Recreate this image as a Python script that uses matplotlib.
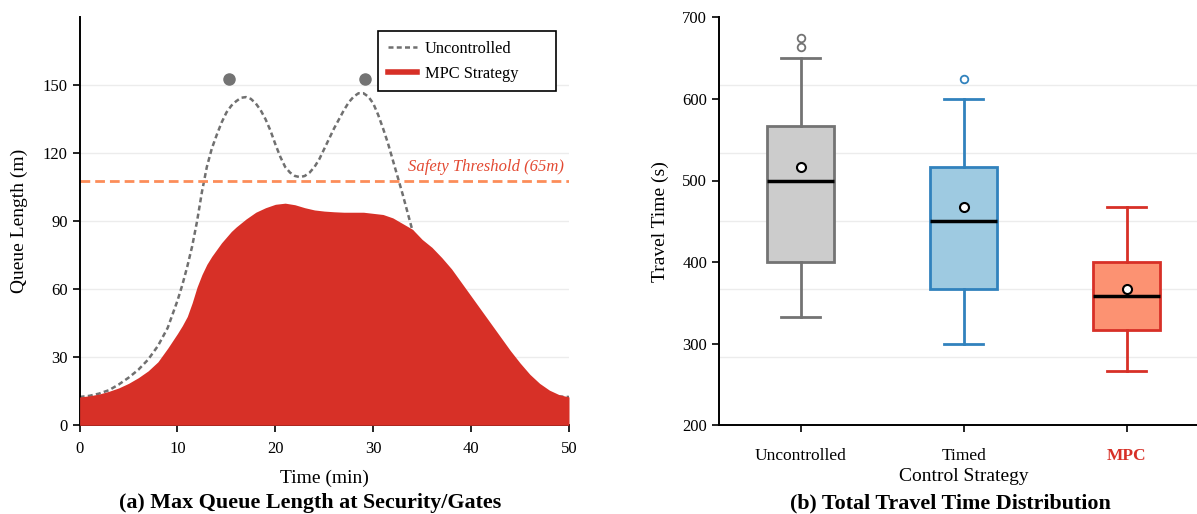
import numpy as np
import matplotlib
matplotlib.use("Agg")
import matplotlib.pyplot as plt
from matplotlib.lines import Line2D

plt.rcParams['font.family'] = ['Liberation Serif', 'DejaVu Serif']

# ---- data: panel (a) queue length over time ----
time_uncontrolled = [0, 1, 2, 3, 4, 5, 6, 7, 8, 9,
                     10, 10.5, 11, 11.5, 12, 12.5, 13, 13.5, 14, 14.5,
                     15, 15.5, 16, 16.5, 17, 17.5, 18, 18.5, 19, 19.5,
                     20, 20.5, 21, 21.5, 22, 22.5, 23, 23.5, 24, 24.5,
                     25, 25.5, 26, 26.5, 27, 27.5, 28, 28.5, 29, 29.5,
                     30, 30.5, 31, 31.5, 32, 32.5, 33, 33.5, 34, 35,
                     36, 37, 38, 39, 40, 41, 42, 43, 44, 45,
                     46, 47, 48, 49, 50]
queue_uncontrolled = [12.5, 13, 14, 15.5, 18, 21, 24.5, 29, 35, 43,
                      55, 62, 70, 79, 90, 103, 114, 122, 128, 133.5,
                      138, 141, 143, 144.5, 144.8, 144, 142, 139, 135, 130,
                      124, 118.5, 114, 111.5, 110, 109.5, 110, 111.5, 114, 117.5,
                      122, 126.5, 131, 135, 139, 142.5, 145, 146.5, 146.5, 145,
                      142, 137, 131, 124.5, 117, 109.5, 102, 94, 86, 72,
                      60, 50, 42, 35, 30, 26, 22, 19, 17, 15,
                      14, 13.5, 13, 12.7, 12.5]
time_mpc = [0, 1, 2, 3, 4, 5, 6, 7, 8, 9,
            10, 10.5, 11, 11.5, 12, 12.5, 13, 13.5, 14, 14.5,
            15, 15.5, 16, 17, 18, 19, 20, 21, 22, 23,
            24, 25, 26, 27, 28, 29, 30, 31, 32, 33,
            34, 35, 36, 37, 38, 39, 40, 41, 42, 43,
            44, 45, 46, 47, 48, 49, 50]
queue_mpc = [12.5, 13, 13.8, 15, 16.5, 18.5, 21, 24, 28, 34,
             40.5, 44, 48, 54, 61, 66.5, 71, 74.5, 77.5, 80.5,
             83, 85.5, 87.5, 91, 94, 96, 97.5, 98, 97.3, 96,
             95, 94.5, 94.2, 94, 94, 94, 93.5, 93, 91.5, 89,
             86.5, 82, 78.5, 74, 69, 63, 57, 51, 45, 39,
             33, 27.5, 22.5, 18.5, 15.5, 13.5, 12.5]
peak_times = [15.3, 29.2]
peak_marks = [153, 153]
safety_threshold = 108

# ---- data: panel (b) travel time distribution ----
strategies = ['Uncontrolled', 'Timed', 'MPC']
whisker_low = [333, 300, 267]
q1 = [400, 367, 317]
median = [500, 450, 358]
q3 = [567, 517, 400]
whisker_high = [650, 600, 467]
means = [517, 467, 367]
outliers = [[663, 675], [625], []]

face_colors = ['#cccccc', '#9ecae1', '#fc9272']
edge_colors = ['#737373', '#3182bd', '#d73027']

W, H = 1197, 514
fig = plt.figure(figsize=(W / 100, H / 100), dpi=100)
ax1 = fig.add_axes([79.6 / W, (H - 425.3) / H, 489.4 / W, 408 / H])
ax2 = fig.add_axes([719 / W, (H - 425.3) / H, 478 / W, 408 / H])

# ---- panel (a) ----
ax1.plot(time_uncontrolled, queue_uncontrolled, color='#707070', lw=1.8,
         dashes=(2, 1.3), zorder=2)
ax1.fill_between(time_mpc, 0, queue_mpc, color='#d73027', lw=0, zorder=3)
ax1.scatter(peak_times, peak_marks, s=64, color='#737373', zorder=4)
ax1.axhline(safety_threshold, color='#fc8d59', lw=2, dashes=(3.5, 1.8), zorder=2)
ax1.text(49.5, safety_threshold + 2.5, 'Safety Threshold (65m)', ha='right',
         va='bottom', fontsize=12, style='italic', color='#e34a33')

ax1.set_xlim(0, 50)
ax1.set_ylim(0, 180)
ax1.set_xticks(range(0, 51, 10))
ax1.set_yticks(range(0, 151, 30))
ax1.grid(axis='y', color='#ececec', lw=1, zorder=0)
ax1.set_axisbelow(True)
ax1.set_ylabel('Queue Length (m)', fontsize=14)
ax1.set_xlabel('Time (min)', fontsize=14, va='top')
ax1.xaxis.set_label_coords(0.5, -0.108)
ax1.yaxis.set_label_coords(-0.105, 0.5)
ax1.tick_params(axis='both', labelsize=12, length=5, width=1.2, direction='out')
ax1.tick_params(axis='x', pad=6)

handles = [Line2D([], [], color='#707070', lw=1.8, dashes=(2, 1.3)),
           Line2D([], [], color='#d73027', lw=4)]
leg = ax1.legend(handles, ['Uncontrolled', 'MPC Strategy'], loc='upper left',
                 bbox_to_anchor=(0.6097, 0, 0.3632, 0.967), mode='expand',
                 borderaxespad=0, fontsize=11.8, fancybox=False,
                 edgecolor='black', framealpha=1, handlelength=1.75,
                 handletextpad=0.5, labelspacing=0.55, borderpad=0.6)
leg.get_frame().set_linewidth(1.2)

# ---- panel (b) ----
stats = []
for i, name in enumerate(strategies):
    stats.append(dict(label=name, whislo=whisker_low[i], q1=q1[i], med=median[i],
                      q3=q3[i], whishi=whisker_high[i], mean=means[i],
                      fliers=np.array(outliers[i])))

bp = ax2.bxp(stats, positions=range(len(strategies)), widths=0.41, capwidths=0.24,
             patch_artist=True, showmeans=True,
             meanprops=dict(marker='o', markerfacecolor='white',
                            markeredgecolor='black', markersize=6.5,
                            markeredgewidth=1.5),
             medianprops=dict(color='black', lw=2.5))
for i in range(len(strategies)):
    bp['boxes'][i].set(facecolor=face_colors[i], edgecolor=edge_colors[i], lw=2)
    for line in bp['whiskers'][2 * i:2 * i + 2] + bp['caps'][2 * i:2 * i + 2]:
        line.set(color=edge_colors[i], lw=2)
    bp['fliers'][i].set(marker='o', markerfacecolor='none',
                        markeredgecolor=edge_colors[i], markersize=5.5,
                        markeredgewidth=1.3)

ax2.set_xlim(-0.5, 2.43)
ax2.set_ylim(200, 700)
ax2.set_yticks(range(200, 701, 100))
ax2.set_yticks(np.linspace(200, 700, 7)[1:-1], minor=True)
ax2.grid(axis='y', which='minor', color='#ececec', lw=1, zorder=0)
ax2.set_axisbelow(True)
ax2.set_xticks(range(len(strategies)), labels=strategies)
mpc_label = ax2.get_xticklabels()[2]
mpc_label.set_color('#d73027')
mpc_label.set_fontweight('bold')
ax2.set_ylabel('Travel Time (s)', fontsize=14)
ax2.set_xlabel('Control Strategy', fontsize=14, va='top')
ax2.xaxis.set_label_coords(0.513, -0.105)
ax2.yaxis.set_label_coords(-0.1036, 0.5)
ax2.tick_params(axis='both', which='major', labelsize=12, length=5, width=1.2,
                direction='out')
ax2.tick_params(axis='x', labelsize=12.5, pad=11)
ax2.tick_params(axis='y', which='minor', length=0)

for ax in (ax1, ax2):
    ax.spines['top'].set_visible(False)
    ax.spines['right'].set_visible(False)
    ax.spines['left'].set_linewidth(1.4)
    ax.spines['bottom'].set_linewidth(1.4)

fig.text(0.259, 1 - 503 / H, '(a) Max Queue Length at Security/Gates',
         ha='center', va='center', fontsize=15.8, fontweight='bold')
fig.text(0.794, 1 - 503 / H, '(b) Total Travel Time Distribution',
         ha='center', va='center', fontsize=15.8, fontweight='bold')

fig.savefig('out.png', dpi=100)
